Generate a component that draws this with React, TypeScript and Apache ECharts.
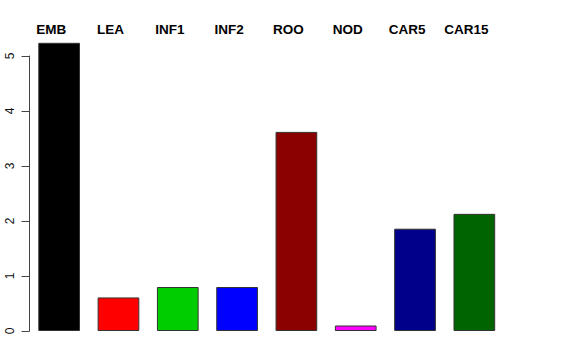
import React, { useEffect, useRef } from "react";
import * as echarts from "echarts";

const categories = ["EMB", "LEA", "INF1", "INF2", "ROO", "NOD", "CAR5", "CAR15"];
const values = [5.24, 0.61, 0.8, 0.8, 3.62, 0.1, 1.86, 2.13];
const barColors = ["#000000", "#FF0000", "#00CD00", "#0000FF", "#8B0000", "#FF00FF", "#00008B", "#006400"];
const yTicks = [0, 1, 2, 3, 4, 5];

export default function App() {
  const ref = useRef<HTMLDivElement>(null);
  useEffect(() => {
    if (!ref.current) return;
    const chart = echarts.init(ref.current, null, { renderer: "svg" });
    chart.setOption({
      animation: false,
      backgroundColor: "#ffffff",
      textStyle: { fontFamily: "Liberation Sans, Arial, sans-serif" },
      grid: { left: 29.5, right: 72, top: 56, bottom: 29, containLabel: false },
      xAxis: {
        type: "category",
        data: categories,
        position: "top",
        axisLine: { show: false },
        axisTick: { show: false },
        axisLabel: {
          show: true,
          interval: 0,
          margin: 20,
          color: "#000",
          fontWeight: "bold",
          fontSize: 13.5,
          padding: [0, 16, 0, 0],
        },
      },
      yAxis: {
        type: "value",
        min: yTicks[0],
        max: yTicks[yTicks.length - 1],
        interval: 1,
        splitLine: { show: false },
        axisLine: { show: true, lineStyle: { color: "#444", width: 1 } },
        axisTick: { show: true, length: 8, lineStyle: { color: "#444" } },
        axisLabel: {
          rotate: 90,
          margin: 14,
          fontSize: 12,
          color: "#111",
        },
      },
      series: [
        {
          type: "bar",
          clip: false,
          barWidth: 41.7,
          data: values.map((v, i) => ({
            value: v,
            itemStyle: { color: barColors[i], borderColor: "#333", borderWidth: 1 },
          })),
        },
      ],
    });
    return () => chart.dispose();
  }, []);
  return <div ref={ref} style={{ width: 576, height: 360, position: "absolute", left: 0, top: 0 }} />;
}
